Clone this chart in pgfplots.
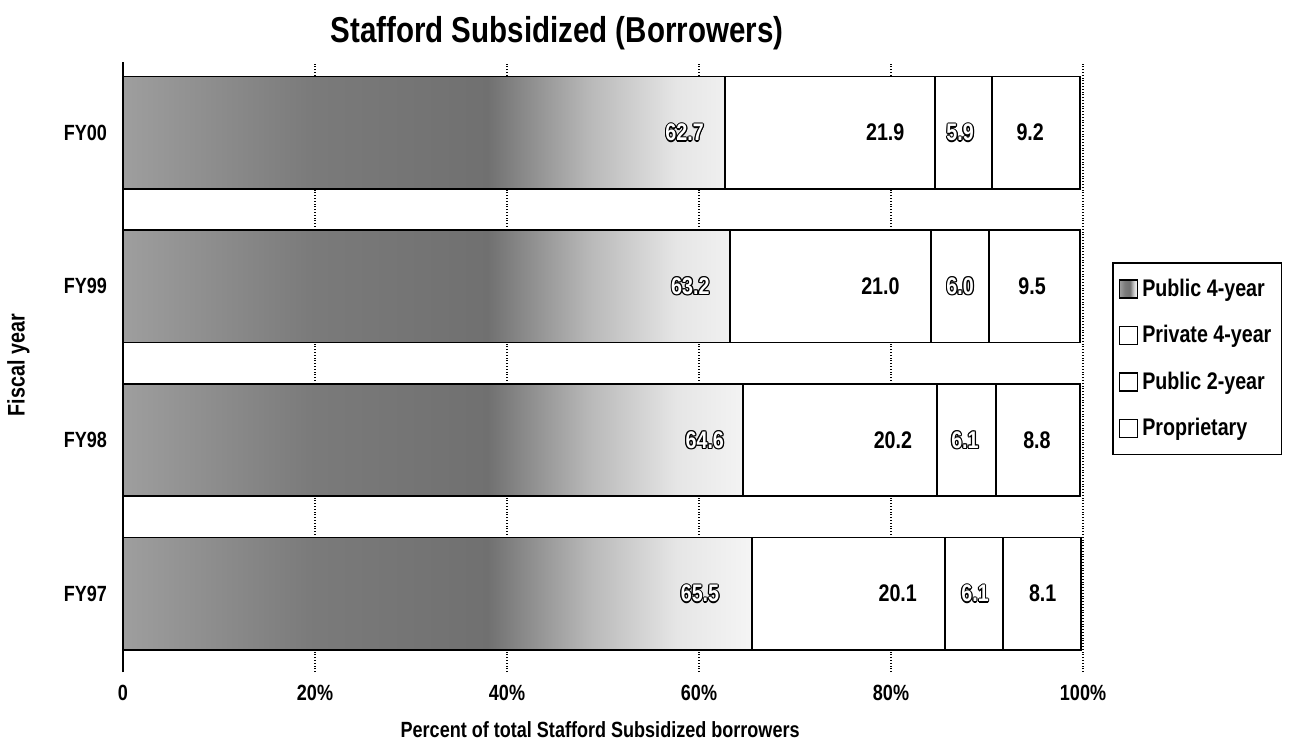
\documentclass[border=0pt]{standalone}
\usepackage{fontspec}
\setmainfont{Liberation Sans}[FakeStretch=0.82]
\usepackage{pgfplots}
\usepackage{pgfplotstable}
\pgfplotsset{compat=1.18}

\pgfdeclarehorizontalshading{stipple}{100bp}{color(0bp)=(black!38); color(25bp)=(black!38); color(40bp)=(black!52); color(54bp)=(black!56); color(62bp)=(black!28); color(69bp)=(black!10); color(75bp)=(black!4); color(100bp)=(black!4)}

\pgfplotstableread{
pos pub4 priv4 pub2 prop
0   65.5 20.1  6.1  8.1
1   64.6 20.2  6.1  8.8
2   63.2 21.0  6.0  9.5
3   62.7 21.9  5.9  9.2
}\shares

\pgfplotsset{legbox/.style={legend image code/.code={\draw[black, line width=0.8pt, fill=white] (0pt,-4.5pt) rectangle (9pt,4.5pt);}}}
\tikzset{val/.style={font=\bfseries\fontsize{12}{14}\selectfont}}
% outlined digits: black copies shifted around, white on top
\newcommand{\outl}[1]{\leavevmode
  \rlap{\kern0.6pt#1}\rlap{\kern-0.6pt#1}%
  \rlap{\raisebox{0.6pt}{#1}}\rlap{\raisebox{-0.6pt}{#1}}%
  \rlap{\kern0.45pt\raisebox{0.45pt}{#1}}\rlap{\kern-0.45pt\raisebox{-0.45pt}{#1}}%
  \rlap{\kern0.45pt\raisebox{-0.45pt}{#1}}\rlap{\kern-0.45pt\raisebox{0.45pt}{#1}}%
  \textcolor{white}{#1}}

\begin{document}
\begin{tikzpicture}
\useasboundingbox (-61.5pt,-34pt) rectangle (585pt,336pt);
\begin{axis}[
  at={(0pt,0pt)}, anchor=south west,
  scale only axis, width=480pt, height=305pt,
  xbar stacked, bar width=0.73,
  xmin=0, xmax=100, ymin=-0.51, ymax=3.46,
  ytick={0,1,2,3}, yticklabels={FY97,FY98,FY99,FY00},
  xtick={0,20,40,60,80,100}, xticklabels={0,20\%,40\%,60\%,80\%,100\%},
  axis lines=left,
  x axis line style={draw=none},
  y axis line style={-, line width=1.4pt},
  major tick length=0pt,
  xmajorgrids, major grid style={densely dotted, line width=0.9pt, black},
  tick label style={font=\bfseries\fontsize{11}{13}\selectfont},
  yticklabel style={xshift=-4.5pt},
  xticklabel style={yshift=-3pt},
  xlabel={Percent of total Stafford Subsidized borrowers},
  xlabel style={at={(axis description cs:0.497,-0.095)}, anchor=center, font=\bfseries\fontsize{11}{13}\selectfont},
  ylabel={Fiscal year},
  ylabel style={at={(axis description cs:-0.109,0.503)}, anchor=center, font=\bfseries\fontsize{12}{14}\selectfont},
  title={Stafford Subsidized (Borrowers)},
  title style={at={(axis description cs:0.452,1.028)}, anchor=center, yshift=0pt, font=\bfseries\fontsize{18}{21}\selectfont},
  legend style={at={(axis description cs:1.030,0.672)}, anchor=north west, draw=black, line width=0.9pt,
    font=\bfseries\fontsize{12}{14}\selectfont, row sep=9pt, inner xsep=3pt, inner ysep=6pt},
  legend cell align=left,
]
\addplot[draw=black, line width=0.9pt, shading=stipple, legbox] table[x=pub4, y=pos] {\shares};
\addplot[draw=black, line width=0.9pt, fill=white, legbox] table[x=priv4, y=pos] {\shares};
\addplot[draw=black, line width=0.9pt, fill=white, legbox] table[x=pub2, y=pos] {\shares};
\addplot[draw=black, line width=0.9pt, fill=white, legbox] table[x=prop, y=pos] {\shares};
\legend{Public 4-year, Private 4-year, Public 2-year, Proprietary}

% label anchors, in data coordinates
\coordinate (a3) at (axis cs:58.5,3);  \coordinate (b3) at (axis cs:79.4,3);
\coordinate (c3) at (axis cs:87.2,3);  \coordinate (d3) at (axis cs:94.5,3);
\coordinate (a2) at (axis cs:59.1,2);  \coordinate (b2) at (axis cs:78.9,2);
\coordinate (c2) at (axis cs:87.2,2);  \coordinate (d2) at (axis cs:94.7,2);
\coordinate (a1) at (axis cs:60.6,1);  \coordinate (b1) at (axis cs:80.2,1);
\coordinate (c1) at (axis cs:87.7,1);  \coordinate (d1) at (axis cs:95.2,1);
\coordinate (a0) at (axis cs:60.1,0);  \coordinate (b0) at (axis cs:80.7,0);
\coordinate (c0) at (axis cs:88.75,0); \coordinate (d0) at (axis cs:95.8,0);
\end{axis}

\node[val] at (a3) {\outl{62.7}};
\node[val] at (b3) {21.9};
\node[val] at (c3) {\outl{5.9}};
\node[val] at (d3) {9.2};
\node[val] at (a2) {\outl{63.2}};
\node[val] at (b2) {21.0};
\node[val] at (c2) {\outl{6.0}};
\node[val] at (d2) {9.5};
\node[val] at (a1) {\outl{64.6}};
\node[val] at (b1) {20.2};
\node[val] at (c1) {\outl{6.1}};
\node[val] at (d1) {8.8};
\node[val] at (a0) {\outl{65.5}};
\node[val] at (b0) {20.1};
\node[val] at (c0) {\outl{6.1}};
\node[val] at (d0) {8.1};
\end{tikzpicture}
\end{document}
